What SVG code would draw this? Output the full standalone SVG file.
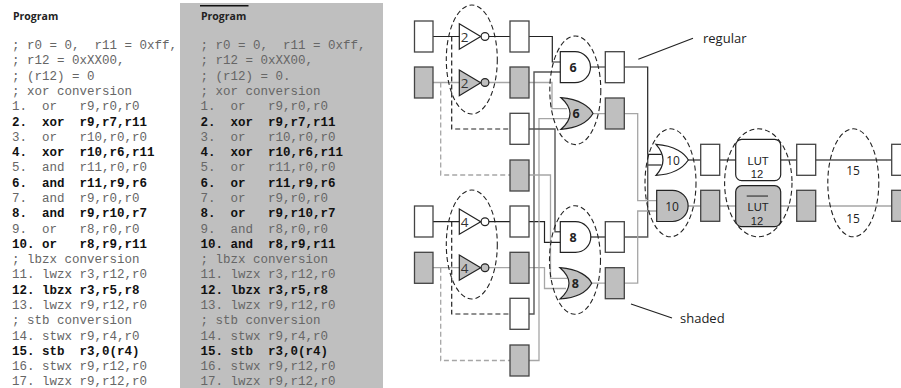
<svg xmlns="http://www.w3.org/2000/svg" width="901" height="388" viewBox="0 0 901 388">
<style>
.m{font-family:"Liberation Mono",monospace;font-size:12.5px;fill:#666;white-space:pre}
.b{font-weight:bold;fill:#111}
.t{font-family:"Open Sans","Liberation Sans",sans-serif;fill:#222;text-anchor:middle}
.h{font-family:"Open Sans","Liberation Sans",sans-serif;font-size:10.5px;font-weight:bold;fill:#222}
.g{font-size:12.5px;font-weight:bold}
.n{font-size:12px}
.i{font-size:13.5px;fill:#333}
.u{font-family:"Liberation Sans",sans-serif;font-size:11.200px;fill:#222;text-anchor:middle}
.l{font-family:"Open Sans","Liberation Sans",sans-serif;font-size:13px;fill:#222}
.box{fill:#fff;stroke:#444;stroke-width:1.3}
.s{fill:#bfbfbf}
.gate{fill:#fff;stroke:#222;stroke-width:1.2}
.sg{fill:#bfbfbf}
.w{fill:none;stroke:#222;stroke-width:1.2}
.wd{fill:none;stroke:#555;stroke-width:1.4}
.wg{fill:none;stroke:#a6a6a6;stroke-width:1.3}
.dk{stroke-dasharray:5 3}
.e{fill:none;stroke:#222;stroke-width:1.100;stroke-dasharray:5 3}
</style>
<g id="program-shaded-bg"><rect x="180" y="3" width="203" height="385" fill="#bfbfbf"/><rect x="200" y="5" width="48.500" height="1.500" fill="#111"/></g>
<g id="program-regular">
<text class="h" x="13" y="20">Program</text>
<text class="m" x="12" y="49">; r0 = 0,  r11 = 0xff,</text>
<text class="m" x="12" y="64.300">; r12 = 0xXX00,</text>
<text class="m" x="12" y="79.600">; (r12) = 0</text>
<text class="m" x="12" y="94.900">; xor conversion</text>
<text class="m" x="12" y="110.200">1.  or   r9,r0,r0</text>
<text class="m b" x="12" y="125.500">2.  xor  r9,r7,r11</text>
<text class="m" x="12" y="140.700">3.  or   r10,r0,r0</text>
<text class="m b" x="12" y="156">4.  xor  r10,r6,r11</text>
<text class="m" x="12" y="171.300">5.  and  r11,r0,r0</text>
<text class="m b" x="12" y="186.600">6.  and  r11,r9,r6</text>
<text class="m" x="12" y="201.900">7.  and  r9,r0,r0</text>
<text class="m b" x="12" y="217.200">8.  and  r9,r10,r7</text>
<text class="m" x="12" y="232.500">9.  or   r8,r0,r0</text>
<text class="m b" x="12" y="247.800">10. or   r8,r9,r11</text>
<text class="m" x="12" y="263.100">; lbzx conversion</text>
<text class="m" x="12" y="278.400">11. lwzx r3,r12,r0</text>
<text class="m b" x="12" y="293.600">12. lbzx r3,r5,r8</text>
<text class="m" x="12" y="308.900">13. lwzx r9,r12,r0</text>
<text class="m" x="12" y="324.200">; stb conversion</text>
<text class="m" x="12" y="339.500">14. stwx r9,r4,r0</text>
<text class="m b" x="12" y="354.800">15. stb  r3,0(r4)</text>
<text class="m" x="12" y="370.100">16. stwx r9,r12,r0</text>
<text class="m" x="12" y="385.400">17. lwzx r9,r12,r0</text>
</g>
<g id="program-shaded">
<text class="h" x="201" y="20">Program</text>
<text class="m" x="200.500" y="49">; r0 = 0,  r11 = 0xff,</text>
<text class="m" x="200.500" y="64.300">; r12 = 0xXX00,</text>
<text class="m" x="200.500" y="79.600">; (r12) = 0.</text>
<text class="m" x="200.500" y="94.900">; xor conversion</text>
<text class="m" x="200.500" y="110.200">1.  or   r9,r0,r0</text>
<text class="m b" x="200.500" y="125.500">2.  xor  r9,r7,r11</text>
<text class="m" x="200.500" y="140.700">3.  or   r10,r0,r0</text>
<text class="m b" x="200.500" y="156">4.  xor  r10,r6,r11</text>
<text class="m" x="200.500" y="171.300">5.  or   r11,r0,r0</text>
<text class="m b" x="200.500" y="186.600">6.  or   r11,r9,r6</text>
<text class="m" x="200.500" y="201.900">7.  or   r9,r0,r0</text>
<text class="m b" x="200.500" y="217.200">8.  or   r9,r10,r7</text>
<text class="m" x="200.500" y="232.500">9.  and  r8,r0,r0</text>
<text class="m b" x="200.500" y="247.800">10. and  r8,r9,r11</text>
<text class="m" x="200.500" y="263.100">; lbzx conversion</text>
<text class="m" x="200.500" y="278.400">11. lwzx r3,r12,r0</text>
<text class="m b" x="200.500" y="293.600">12. lbzx r3,r5,r8</text>
<text class="m" x="200.500" y="308.900">13. lwzx r9,r12,r0</text>
<text class="m" x="200.500" y="324.200">; stb conversion</text>
<text class="m" x="200.500" y="339.500">14. stwx r9,r4,r0</text>
<text class="m b" x="200.500" y="354.800">15. stb  r3,0(r4)</text>
<text class="m" x="200.500" y="370.100">16. stwx r9,r12,r0</text>
<text class="m" x="200.500" y="385.400">17. lwzx r9,r12,r0</text>
</g>
<g id="connectors">
<path class="w" d="M433 36.500H510M529 36.500H552.300V62H561"/>
<path class="wg" d="M433 82.500H510M529 82.500H552V108.700H567"/>
<path class="w" d="M433 221.700H510M529 221.700H544.500V242.300H561"/>
<path class="wg" d="M433 267.700H510M529 267.700H544.500V288.500H566"/>
<path class="w dk" d="M451.700 36.500V129H510M451.700 221.700V314H510"/>
<path class="wg dk" d="M440.700 82.500V175H510M440.700 267.700V360.500H510"/>
<path class="wd" d="M561 72H534V314H529"/>
<path class="wg" d="M568 118.700H539V360.500H529"/>
<path class="wd" d="M529 129H555V231.800H561"/>
<path class="wg" d="M529 175H550.500V278.300H567"/>
<path class="w" d="M590 67H605.500M624 67H647.700V154.300H661.500"/>
<path class="wd" d="M590 237H605.500M624 237H647.700V154.300M647.700 165H661.500"/>
<path class="wg" d="M592 113.700H605.500M624 113.700H637.700V200.700H657"/>
<path class="wg" d="M591 283.200H605.500M624 283.200H637.700V211H657"/>
<path class="wd" d="M688 160H701M720 160H736M780 160H797M816 160H892"/>
<path class="wg" d="M688 206H701M720 206H736M780 206H797M816 206H892"/>
<path class="w" d="M638.300 59.300L693 38.300M631 304L672 318"/>
</g>
<g id="src1"><rect class="box" x="414.500" y="21" width="18.500" height="31"/></g>
<g id="src2"><rect class="box s" x="414.500" y="67" width="18.500" height="31"/></g>
<g id="src3"><rect class="box" x="414.500" y="206" width="18.500" height="31"/></g>
<g id="src4"><rect class="box s" x="414.500" y="252.300" width="18.500" height="31"/></g>
<g id="mid1"><rect class="box" x="510" y="21" width="19" height="31"/></g>
<g id="mid2"><rect class="box s" x="510" y="67" width="19" height="31"/></g>
<g id="mid3"><rect class="box" x="510" y="113.300" width="19" height="31"/></g>
<g id="mid4"><rect class="box s" x="510" y="160" width="19" height="31"/></g>
<g id="mid5"><rect class="box" x="510" y="206" width="19" height="31"/></g>
<g id="mid6"><rect class="box s" x="510" y="252.300" width="19" height="31"/></g>
<g id="mid7"><rect class="box" x="510" y="298.300" width="19" height="31"/></g>
<g id="mid8"><rect class="box s" x="510" y="345" width="19" height="31"/></g>
<g id="inv1"><path class="gate" d="M459.300 23.700L480.700 36.500L459.300 49.300Z"/><circle class="gate" cx="485" cy="36.500" r="3.900"/><text class="t i" x="464.500" y="41.500">2</text></g>
<g id="inv2"><path class="gate sg" d="M459.300 70L480.700 82.700L459.300 95.700Z"/><circle class="gate sg" cx="485" cy="82.500" r="3.900"/><text class="t i" x="464.500" y="88">2</text></g>
<g id="inv3"><path class="gate" d="M459.300 209L480.700 221.700L459.300 234.300Z"/><circle class="gate" cx="485" cy="221.700" r="3.900"/><text class="t i" x="464.500" y="227">4</text></g>
<g id="inv4"><path class="gate sg" d="M459.300 255L480.700 267.700L459.300 280.300Z"/><circle class="gate sg" cx="485" cy="267.700" r="3.900"/><text class="t i" x="464.500" y="273">4</text></g>
<g id="and6"><path class="gate" d="M560.300 51.700H575A15.500 15.500 0 0 1 575 82.700H560.300Z"/><text class="t g" x="573" y="72">6</text></g>
<g id="or6"><path class="gate sg" d="M561 97.700C580 99 590 107 593 113.500C588 122 578 128 561 129.300Q579 113.500 561 97.700Z"/><text class="t g" x="576" y="118">6</text></g>
<g id="and8"><path class="gate" d="M560.300 221.700H575.500A15.300 15.300 0 0 1 575.500 252.300H560.300Z"/><text class="t g" x="573" y="242">8</text></g>
<g id="or8"><path class="gate sg" d="M560 267.700C579 269 589 277 591.700 283.300C587 292 577 298 560 299Q578 283.300 560 267.700Z"/><text class="t g" x="575.300" y="288">8</text></g>
<g id="r1"><rect class="box" x="605.300" y="51.700" width="19" height="31"/></g>
<g id="r2"><rect class="box s" x="605.300" y="98" width="19" height="31"/></g>
<g id="r3"><rect class="box" x="605.300" y="221.700" width="19" height="30.600"/></g>
<g id="r4"><rect class="box s" x="605.300" y="267.700" width="19" height="31"/></g>
<g id="or10"><path class="gate" d="M656 144.300C675 145.500 685 153.500 688.300 160C683 168 673 174.500 656 175.300Q670 160 656 144.300Z"/><text class="t n" x="673" y="164.500">10</text></g>
<g id="and10"><path class="gate sg" d="M656.700 190.300H672.500A15.600 15.600 0 0 1 672.500 221.500H656.700Z"/><text class="t n" x="672" y="210.500">10</text></g>
<g id="b10a"><rect class="box" x="700.700" y="144.300" width="19" height="31"/></g>
<g id="b10b"><rect class="box s" x="700.700" y="190.300" width="19" height="31"/></g>
<g id="lut"><rect class="gate" x="735.700" y="139.300" width="45" height="41.400" rx="6"/><text class="u" x="758" y="164.500">LUT</text><text class="u" x="757" y="177.500">12</text></g>
<g id="lutbar"><rect class="gate sg" x="735.700" y="185.700" width="45" height="41" rx="6"/><rect x="746.700" y="195.400" width="21.300" height="1.300" fill="#444"/><text class="u" x="758" y="210.500">LUT</text><text class="u" x="757" y="224.500">12</text></g>
<g id="b12a"><rect class="box" x="796.700" y="144.300" width="19" height="31"/></g>
<g id="b12b"><rect class="box s" x="796.700" y="190.300" width="19" height="31"/></g>
<g id="end1"><rect class="box" x="891.700" y="144.300" width="19" height="31"/></g>
<g id="end2"><rect class="box s" x="891.700" y="190.300" width="19" height="31"/></g>
<g id="groups">
<ellipse class="e" cx="471.800" cy="59.500" rx="25.500" ry="54.500"/>
<ellipse class="e" cx="471.800" cy="244.500" rx="25.500" ry="54.500"/>
<ellipse class="e" cx="575.300" cy="90.300" rx="25.500" ry="54.300"/>
<ellipse class="e" cx="575" cy="260" rx="25.500" ry="54.300"/>
<ellipse class="e" cx="670.500" cy="182.800" rx="25.500" ry="54"/>
<ellipse class="e" cx="758.300" cy="182.800" rx="33.700" ry="54"/>
<ellipse class="e" cx="853.300" cy="182.800" rx="25.500" ry="54"/>
</g>
<g id="labels">
<text class="t n" x="853" y="175">15</text>
<text class="t n" x="853" y="223">15</text>
<text class="l" x="703" y="43">regular</text>
<text class="l" x="680" y="323">shaded</text>
</g>
</svg>
